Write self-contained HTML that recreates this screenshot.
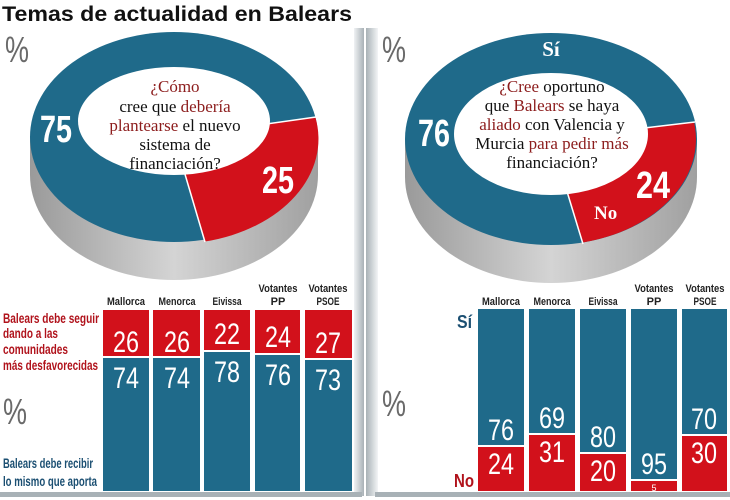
<!DOCTYPE html>
<html><head><meta charset="utf-8"><style>
html,body{margin:0;padding:0;background:#fff;}
svg{display:block;}
.n{font-family:"Liberation Sans",sans-serif;}
.s{font-family:"Liberation Serif",serif;}
</style></head><body>
<svg width="730" height="500" viewBox="0 0 730 500" xmlns="http://www.w3.org/2000/svg">
<defs>
<linearGradient id="sideL" x1="0" x2="1" y1="0" y2="0"><stop offset="0" stop-color="#9a9a9a"/><stop offset="0.5" stop-color="#d4d4d4"/><stop offset="1" stop-color="#a0a0a0"/></linearGradient>
<linearGradient id="shR" x1="0" x2="1"><stop offset="0" stop-color="#f0f2f4"/><stop offset="1" stop-color="#a8b1b6"/></linearGradient>
<linearGradient id="shL" x1="0" x2="1"><stop offset="0" stop-color="#a8b1b6"/><stop offset="1" stop-color="#f3f5f6"/></linearGradient>
</defs>
<rect width="730" height="500" fill="#fff"/>
<text x="2" y="21" font-family="Liberation Sans,sans-serif" font-weight="bold" font-size="21" fill="#111" textLength="350" lengthAdjust="spacingAndGlyphs">Temas de actualidad en Balears</text>
<rect x="354" y="28" width="10" height="468" fill="url(#shR)"/>
<rect x="0" y="492" width="362" height="5" fill="#a8b1b6"/>
<rect x="366" y="28" width="12" height="468" fill="url(#shL)"/>
<rect x="375" y="492" width="355" height="5" fill="#a8b1b6"/>

<!-- LEFT DONUT -->
<path d="M30,137 L30,175 A144,105 0 0 0 318,175 L318,137 Z" fill="url(#sideL)"/>
<ellipse cx="174" cy="137" rx="144" ry="105" fill="#1f6a8a"/>
<path d="M174,137 L315.3,117 A144,105 0 0 1 205,241.5 Z" fill="#d2111b"/>
<line x1="174" y1="137" x2="205" y2="242" stroke="#fff" stroke-width="1.5"/>
<line x1="174" y1="137" x2="316" y2="117" stroke="#fff" stroke-width="1.5"/>
<ellipse cx="174" cy="121" rx="96" ry="54" fill="#fff"/>
<text x="5" y="62" class="n" font-size="36" fill="#6a6a6a" textLength="24" lengthAdjust="spacingAndGlyphs">%</text>
<g class="s" font-size="17" text-anchor="middle" fill="#111">
<text x="175" y="92"><tspan fill="#8c1c1c">¿Cómo</tspan></text>
<text x="175" y="112">cree que <tspan fill="#8c1c1c">debería</tspan></text>
<text x="175" y="131"><tspan fill="#8c1c1c">plantearse</tspan> el nuevo</text>
<text x="175" y="150">sistema de</text>
<text x="175" y="169">financiación?</text>
</g>
<text x="40" y="142" class="n" font-weight="bold" font-size="38" fill="#fff" textLength="32" lengthAdjust="spacingAndGlyphs">75</text>
<text x="262" y="193" class="n" font-weight="bold" font-size="38" fill="#fff" textLength="32" lengthAdjust="spacingAndGlyphs">25</text>

<!-- RIGHT DONUT -->
<path d="M405,139 L405,177 A146,106 0 0 0 697,177 L697,139 Z" fill="url(#sideL)"/>
<ellipse cx="551" cy="139" rx="146" ry="106" fill="#1f6a8a"/>
<path d="M551,139 L694,122 A146,106 0 0 1 583,242.5 Z" fill="#d2111b"/>
<line x1="551" y1="139" x2="583" y2="244" stroke="#fff" stroke-width="1.5"/>
<line x1="551" y1="139" x2="695" y2="122" stroke="#fff" stroke-width="1.5"/>
<ellipse cx="551" cy="134" rx="97" ry="61" fill="#fff"/>
<text x="382" y="62" class="n" font-size="36" fill="#6a6a6a" textLength="24" lengthAdjust="spacingAndGlyphs">%</text>
<text x="551" y="56" class="s" font-weight="bold" font-size="21" fill="#fff" text-anchor="middle">Sí</text>
<g class="s" font-size="17" text-anchor="middle" fill="#111">
<text x="552" y="92"><tspan fill="#8c1c1c">¿Cree</tspan> oportuno</text>
<text x="552" y="111">que <tspan fill="#8c1c1c">Balears</tspan> se haya</text>
<text x="552" y="130"><tspan fill="#8c1c1c">aliado</tspan> con Valencia y</text>
<text x="552" y="149">Murcia <tspan fill="#8c1c1c">para pedir más</tspan></text>
<text x="552" y="168">financiación?</text>
</g>
<text x="418" y="146" class="n" font-weight="bold" font-size="38" fill="#fff" textLength="32" lengthAdjust="spacingAndGlyphs">76</text>
<text x="636" y="198" class="n" font-weight="bold" font-size="38" fill="#fff" textLength="34" lengthAdjust="spacingAndGlyphs">24</text>
<text x="594" y="219" class="s" font-weight="bold" font-size="19" fill="#fff">No</text>

<!-- LEFT BARS -->
<g class="n" font-weight="bold" font-size="11" fill="#222" text-anchor="middle" lengthAdjust="spacingAndGlyphs">
<text x="126" y="305" textLength="38" lengthAdjust="spacingAndGlyphs">Mallorca</text>
<text x="177" y="305" textLength="37" lengthAdjust="spacingAndGlyphs">Menorca</text>
<text x="227" y="305" textLength="29" lengthAdjust="spacingAndGlyphs">Eivissa</text>
<text x="278" y="292" textLength="39" lengthAdjust="spacingAndGlyphs">Votantes</text><text x="278" y="305">PP</text>
<text x="328" y="292" textLength="39" lengthAdjust="spacingAndGlyphs">Votantes</text><text x="328" y="305" textLength="23" lengthAdjust="spacingAndGlyphs">PSOE</text>
</g>
<g fill="#d2111b">
<rect x="103" y="310" width="46" height="46"/><rect x="153" y="310" width="47" height="46"/>
<rect x="204" y="310" width="46" height="40"/><rect x="255" y="310" width="45" height="43"/>
<rect x="305" y="310" width="47" height="48"/>
</g>
<g fill="#1f6a8a">
<rect x="103" y="358" width="46" height="133"/><rect x="153" y="358" width="47" height="133"/>
<rect x="204" y="352" width="46" height="139"/><rect x="255" y="355" width="45" height="136"/>
<rect x="305" y="360" width="47" height="131"/>
</g>
<g class="n" font-size="30" fill="#fff">
<text x="113" y="352" textLength="26" lengthAdjust="spacingAndGlyphs">26</text>
<text x="164" y="352" textLength="26" lengthAdjust="spacingAndGlyphs">26</text>
<text x="214" y="344" textLength="26" lengthAdjust="spacingAndGlyphs">22</text>
<text x="265" y="347" textLength="26" lengthAdjust="spacingAndGlyphs">24</text>
<text x="315" y="353" textLength="26" lengthAdjust="spacingAndGlyphs">27</text>
<text x="113" y="388" textLength="26" lengthAdjust="spacingAndGlyphs">74</text>
<text x="164" y="388" textLength="26" lengthAdjust="spacingAndGlyphs">74</text>
<text x="214" y="382" textLength="26" lengthAdjust="spacingAndGlyphs">78</text>
<text x="265" y="385" textLength="26" lengthAdjust="spacingAndGlyphs">76</text>
<text x="315" y="390" textLength="26" lengthAdjust="spacingAndGlyphs">73</text>
</g>
<g class="n" font-weight="bold" font-size="14" fill="#b0121b">
<text x="3" y="323" textLength="96" lengthAdjust="spacingAndGlyphs">Balears debe seguir</text>
<text x="3" y="338" textLength="55" lengthAdjust="spacingAndGlyphs">dando a las</text>
<text x="3" y="354" textLength="65" lengthAdjust="spacingAndGlyphs">comunidades</text>
<text x="3" y="370" textLength="95" lengthAdjust="spacingAndGlyphs">más desfavorecidas</text>
</g>
<text x="3" y="424" class="n" font-size="36" fill="#6a6a6a" textLength="24" lengthAdjust="spacingAndGlyphs">%</text>
<g class="n" font-weight="bold" font-size="14" fill="#1b4f72">
<text x="3" y="468" textLength="90" lengthAdjust="spacingAndGlyphs">Balears debe recibir</text>
<text x="3" y="486" textLength="94" lengthAdjust="spacingAndGlyphs">lo mismo que aporta</text>
</g>

<!-- RIGHT BARS -->
<g class="n" font-weight="bold" font-size="11" fill="#222" text-anchor="middle">
<text x="501" y="305" textLength="38" lengthAdjust="spacingAndGlyphs">Mallorca</text>
<text x="552" y="305" textLength="37" lengthAdjust="spacingAndGlyphs">Menorca</text>
<text x="603" y="305" textLength="29" lengthAdjust="spacingAndGlyphs">Eivissa</text>
<text x="654" y="292" textLength="39" lengthAdjust="spacingAndGlyphs">Votantes</text><text x="654" y="305">PP</text>
<text x="705" y="292" textLength="39" lengthAdjust="spacingAndGlyphs">Votantes</text><text x="705" y="305" textLength="23" lengthAdjust="spacingAndGlyphs">PSOE</text>
</g>
<g fill="#1f6a8a">
<rect x="478" y="309" width="46" height="136"/><rect x="529" y="309" width="46" height="124"/>
<rect x="580" y="309" width="46" height="143"/><rect x="631" y="309" width="46" height="170"/>
<rect x="682" y="309" width="45" height="125"/>
</g>
<g fill="#d2111b">
<rect x="478" y="447" width="46" height="44"/><rect x="529" y="435" width="46" height="56"/>
<rect x="580" y="454" width="46" height="37"/><rect x="631" y="481" width="46" height="10"/>
<rect x="682" y="436" width="45" height="55"/>
</g>
<g class="n" font-size="30" fill="#fff">
<text x="488" y="440" textLength="26" lengthAdjust="spacingAndGlyphs">76</text>
<text x="539" y="428" textLength="26" lengthAdjust="spacingAndGlyphs">69</text>
<text x="590" y="447" textLength="26" lengthAdjust="spacingAndGlyphs">80</text>
<text x="641" y="474" textLength="26" lengthAdjust="spacingAndGlyphs">95</text>
<text x="691" y="429" textLength="26" lengthAdjust="spacingAndGlyphs">70</text>
<text x="488" y="474" textLength="26" lengthAdjust="spacingAndGlyphs">24</text>
<text x="539" y="462" textLength="26" lengthAdjust="spacingAndGlyphs">31</text>
<text x="590" y="481" textLength="26" lengthAdjust="spacingAndGlyphs">20</text>
<text x="691" y="463" textLength="26" lengthAdjust="spacingAndGlyphs">30</text>
</g>
<text x="654" y="491" class="n" font-size="9" fill="#fff" text-anchor="middle">5</text>
<text x="457" y="328" class="n" font-weight="bold" font-size="18" fill="#1b4f72" textLength="15" lengthAdjust="spacingAndGlyphs">Sí</text>
<text x="454" y="487" class="n" font-weight="bold" font-size="18" fill="#b0121b" textLength="20" lengthAdjust="spacingAndGlyphs">No</text>
<text x="382" y="416" class="n" font-size="36" fill="#6a6a6a" textLength="24" lengthAdjust="spacingAndGlyphs">%</text>
</svg>
</body></html>
